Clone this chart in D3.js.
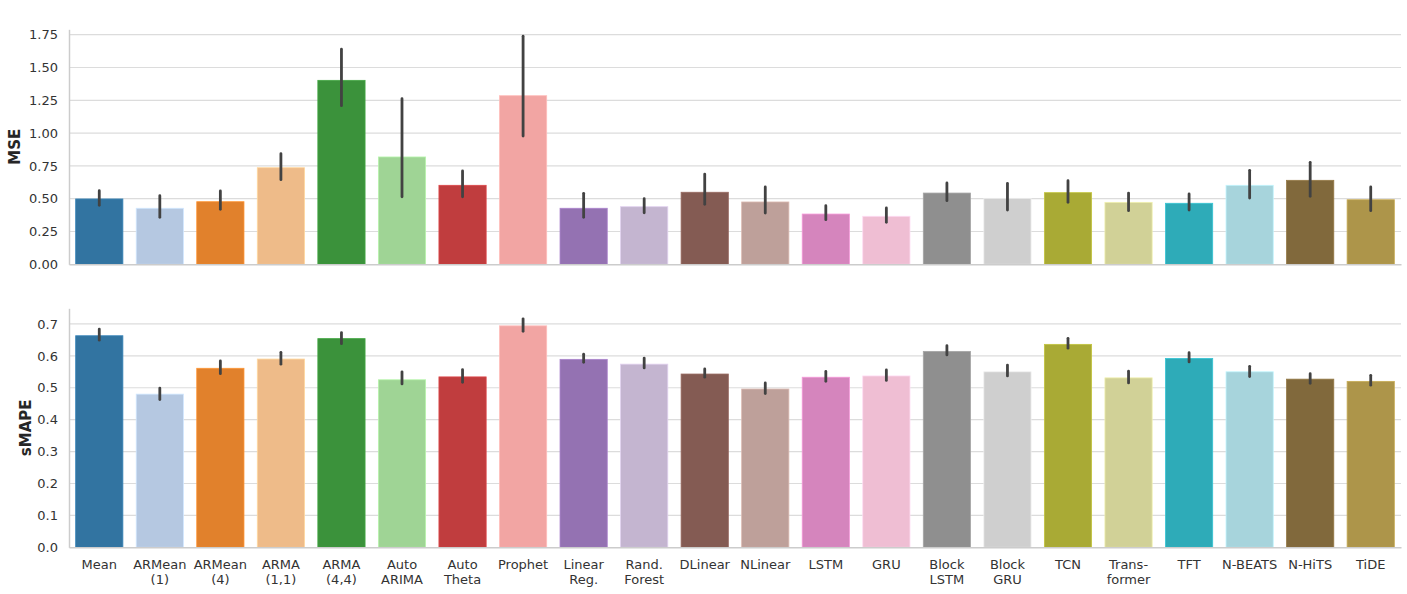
<!DOCTYPE html>
<html>
<head>
<meta charset="utf-8">
<script src="https://cdn.jsdelivr.net/npm/d3@7"></script>
<style>
  body { margin: 0; background: #fff; }
  svg text { font-family: "DejaVu Sans", sans-serif; }
  .grid line { stroke: #dcdcdc; stroke-width: 1.2; }
  .tick text { fill: #333; font-size: 13px; }
  .title { fill: #262626; font-size: 15px; font-weight: bold; }
</style>
</head>
<body>
<svg id="chart" width="1407" height="594"></svg>
<script>
// modelos (dos líneas en la etiqueta cuando hace falta)
const models = ['Mean', 'ARMean\n(1)', 'ARMean\n(4)', 'ARMA\n(1,1)', 'ARMA\n(4,4)', 'Auto\nARIMA',
  'Auto\nTheta', 'Prophet', 'Linear\nReg.', 'Rand.\nForest', 'DLinear', 'NLinear', 'LSTM', 'GRU',
  'Block\nLSTM', 'Block\nGRU', 'TCN', 'Trans-\nformer', 'TFT', 'N-BEATS', 'N-HiTS', 'TiDE'];

const mse = [0.498, 0.427, 0.477, 0.736, 1.402, 0.818, 0.602, 1.285, 0.427, 0.439, 0.549,
  0.475, 0.383, 0.366, 0.543, 0.503, 0.546, 0.472, 0.465, 0.602, 0.640, 0.492];
const mseLo = [0.450, 0.358, 0.419, 0.645, 1.209, 0.515, 0.515, 0.978, 0.358, 0.393, 0.457,
  0.391, 0.340, 0.320, 0.485, 0.414, 0.472, 0.409, 0.414, 0.505, 0.518, 0.409];
const mseHi = [0.561, 0.523, 0.559, 0.843, 1.639, 1.262, 0.711, 1.738, 0.541, 0.500, 0.688,
  0.589, 0.447, 0.429, 0.620, 0.617, 0.637, 0.543, 0.536, 0.716, 0.777, 0.589];

const smape = [0.663, 0.480, 0.561, 0.590, 0.654, 0.525, 0.534, 0.694, 0.589, 0.574, 0.543,
  0.496, 0.533, 0.537, 0.614, 0.550, 0.636, 0.531, 0.592, 0.550, 0.527, 0.520];
const smapeLo = [0.649, 0.463, 0.544, 0.574, 0.638, 0.512, 0.517, 0.677, 0.580, 0.562, 0.533,
  0.482, 0.520, 0.523, 0.603, 0.537, 0.624, 0.515, 0.581, 0.535, 0.514, 0.508];
const smapeHi = [0.684, 0.499, 0.584, 0.611, 0.673, 0.550, 0.557, 0.716, 0.605, 0.593, 0.559,
  0.515, 0.551, 0.556, 0.632, 0.571, 0.655, 0.552, 0.610, 0.567, 0.544, 0.539];

const mseTicks = [0, 0.25, 0.5, 0.75, 1.0, 1.25, 1.5, 1.75];
const smapeTicks = [0, 0.1, 0.2, 0.3, 0.4, 0.5, 0.6, 0.7];

// paleta tab20 + dos tonos extra, desaturada como seaborn
const baseColors = ['#1f77b4', '#aec7e8', '#ff7f0e', '#ffbb78', '#2ca02c', '#98df8a', '#d62728',
  '#ff9896', '#9467bd', '#c5b0d5', '#8c564b', '#c49c94', '#e377c2', '#f7b6d2', '#8f8f8f',
  '#cfcfcf', '#bcbd22', '#dbdb8d', '#17becf', '#9edae5', '#8c6d31', '#bd9e39'];
const colors = baseColors.map(c => {
  const h = d3.hsl(c);
  if (!isNaN(h.s)) h.s *= 0.75;
  return h.formatHex();
});

const svg = d3.select('#chart');
const left = 69, right = 1401;

const x = d3.scaleBand().domain(models).range([left, right]).paddingInner(0.22).paddingOuter(0.11);

function panel(cfg) {
  const y = d3.scaleLinear().domain(cfg.domain).range([cfg.bottom, cfg.top]);
  const g = svg.append('g');

  // rejilla
  g.append('g').attr('class', 'grid')
    .selectAll('line').data(cfg.ticks.filter(t => t > 0)).enter().append('line')
    .attr('x1', left).attr('x2', right)
    .attr('y1', d => y(d)).attr('y2', d => y(d));

  const rows = models.map((m, i) => ({ m, v: cfg.values[i], lo: cfg.lo[i], hi: cfg.hi[i], c: colors[i] }));

  g.selectAll('rect').data(rows).enter().append('rect')
    .attr('x', d => x(d.m)).attr('width', x.bandwidth())
    .attr('y', d => y(d.v)).attr('height', d => y(0) - y(d.v))
    .attr('fill', d => d.c)
    .attr('stroke', d => d3.color(d.c).brighter(0.4))
    .attr('stroke-width', 0.8);

  g.selectAll('.err').data(rows).enter().append('line')
    .attr('class', 'err')
    .attr('x1', d => x(d.m) + x.bandwidth() / 2).attr('x2', d => x(d.m) + x.bandwidth() / 2)
    .attr('y1', d => y(d.lo)).attr('y2', d => y(d.hi))
    .attr('stroke', '#424242').attr('stroke-width', 2.8).attr('stroke-linecap', 'round');

  // eje y
  const ya = g.append('g').attr('transform', `translate(${left},0)`)
    .call(d3.axisLeft(y).tickValues(cfg.ticks).tickFormat(cfg.fmt).tickSize(0).tickPadding(11));
  ya.select('.domain').attr('stroke', '#cccccc').attr('stroke-width', 1.5);

  // eje x
  const xa = g.append('g').attr('transform', `translate(0,${cfg.bottom})`)
    .call(d3.axisBottom(x).tickSize(0).tickFormat(''));
  xa.select('.domain').attr('stroke', '#cccccc').attr('stroke-width', 1.5);

  if (cfg.labels) {
    xa.selectAll('.tick').each(function (d) {
      const t = d3.select(this).append('text')
        .attr('fill', '#333').attr('text-anchor', 'middle').style('font-size', '13px')
        .attr('y', 21.5);
      d.split('\n').forEach((line, k) => {
        t.append('tspan').attr('x', 0).attr('dy', k === 0 ? 0 : 15.5).text(line);
      });
    });
  }

  svg.append('text').attr('class', 'title')
    .attr('transform', `translate(${cfg.titleX},${(cfg.top + cfg.bottom) / 2}) rotate(-90)`)
    .attr('text-anchor', 'middle').attr('dy', '0.35em')
    .text(cfg.title);
}

panel({
  title: 'MSE', titleX: 15, values: mse, lo: mseLo, hi: mseHi,
  domain: [0, 1.791], ticks: mseTicks, fmt: d3.format('.2f'),
  top: 29.3, bottom: 264.3, labels: false
});

panel({
  title: 'sMAPE', titleX: 26, values: smape, lo: smapeLo, hi: smapeHi,
  domain: [0, 0.749], ticks: smapeTicks, fmt: d3.format('.1f'),
  top: 308.3, bottom: 547.3, labels: true
});
</script>
</body>
</html>
